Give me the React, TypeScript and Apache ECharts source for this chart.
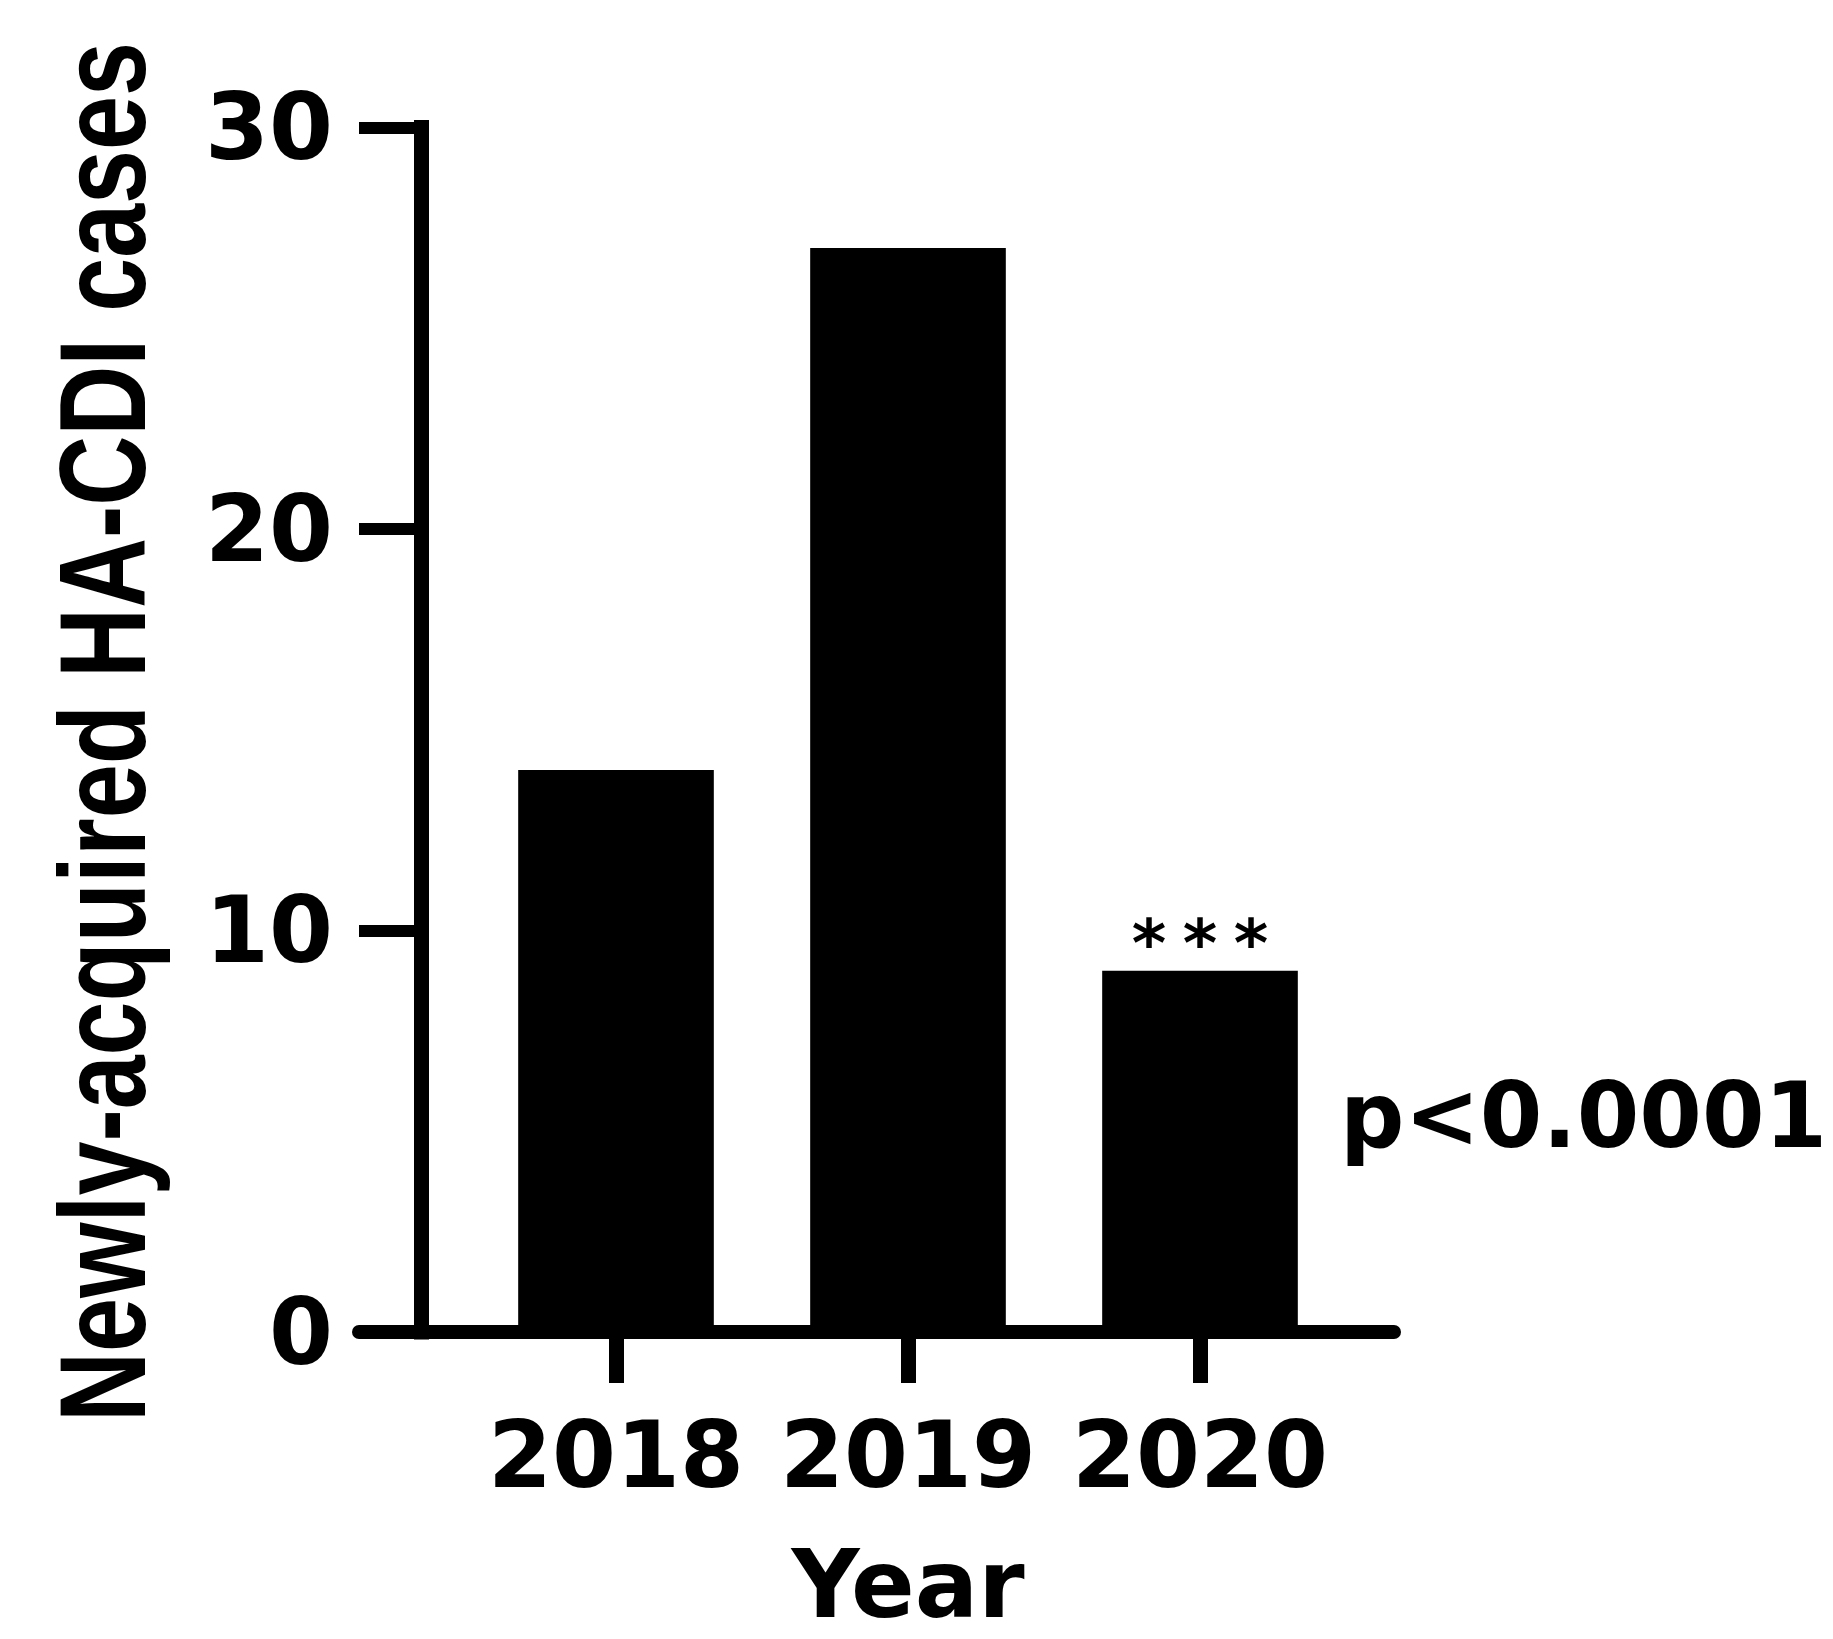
import React, { useEffect, useRef } from "react";
import * as echarts from "echarts";

const years = ["2018", "2019", "2020"];
const cases = [14, 27, 9];
const significance = ["", "", "*\u2005*\u2005*"];
const yMin = 0;
const yMax = 30;
const yInterval = 10;
const xTitle = "Year";
const yTitle = "Newly-acquired HA-CDI cases";
const pText = "p<0.0001";

const WIDE = '"DejaVu Sans", sans-serif';
const ARIAL = '"Liberation Sans", Arial, sans-serif';

export default function App() {
  const ref = useRef<HTMLDivElement>(null);
  useEffect(() => {
    document.body.style.margin = "0";
    if (!ref.current) return;
    const chart = echarts.init(ref.current, undefined, { renderer: "svg" });
    const option: any = {
      animation: false,
      backgroundColor: "#ffffff",
      grid: [
        { left: 470, right: 487, top: 127.5, bottom: 307, containLabel: false, outerBoundsMode: "none" },
        { left: 359, right: 439, top: 127.5, bottom: 307, containLabel: false, outerBoundsMode: "none" },
      ],
      xAxis: [
        {
          type: "category",
          gridIndex: 0,
          data: years,
          axisLine: { show: false },
          axisTick: { show: true, alignWithLabel: true, length: 51, lineStyle: { color: "#000", width: 15 } },
          axisLabel: {
            color: "#000",
            fontFamily: WIDE,
            fontWeight: "bold",
            fontSize: 92,
            margin: 77,
            interval: 0,
            hideOverlap: false,
          },
          name: xTitle,
          nameLocation: "middle",
          nameGap: 212,
          nameTextStyle: { color: "#000", fontFamily: WIDE, fontWeight: "bold", fontSize: 94, lineHeight: 80 },
        },
        {
          type: "value",
          gridIndex: 1,
          min: 0,
          max: 1,
          axisLine: { show: true, onZero: false, lineStyle: { color: "#000", width: 14 } },
          axisTick: { show: false },
          axisLabel: { show: false },
          splitLine: { show: false },
        },
      ],
      yAxis: [
        {
          type: "value",
          gridIndex: 0,
          min: yMin,
          max: yMax,
          interval: yInterval,
          offset: 49,
          axisLine: { show: true, lineStyle: { color: "#000", width: 15, cap: "square" } },
          axisTick: { show: true, length: 62, lineStyle: { color: "#000", width: 12 } },
          axisLabel: { color: "#000", fontFamily: WIDE, fontWeight: "bold", fontSize: 92, margin: 88 },
          splitLine: { show: false },
        },
        { type: "value", gridIndex: 1, show: false, min: 0, max: 1 },
      ],
      series: [
        {
          type: "bar",
          xAxisIndex: 0,
          yAxisIndex: 0,
          barCategoryGap: "33%",
          itemStyle: { color: "#000" },
          data: cases.map((v, i) => ({
            value: v,
            label: {
              show: significance[i] !== "",
              formatter: significance[i],
              position: "top",
              distance: -6,
              color: "#000",
              fontFamily: WIDE,
              fontWeight: "bold",
              fontSize: 66,
            },
          })),
        },
      ],
      graphic: [
        {
          type: "text",
          x: 102,
          y: 732,
          rotation: Math.PI / 2,
          scaleY: 1.27,
          style: {
            text: yTitle,
            fill: "#000",
            font: `bold 97px ${ARIAL}`,
            align: "center",
            verticalAlign: "middle",
          },
        },
        {
          type: "text",
          left: 1340,
          top: 1070,
          style: {
            text: pText,
            fill: "#000",
            font: `bold 90px ${WIDE}`,
          },
        },
      ],
    };
    chart.setOption(option);
    return () => chart.dispose();
  }, []);
  return <div ref={ref} style={{ width: 1833, height: 1639, background: "#fff" }} />;
}
